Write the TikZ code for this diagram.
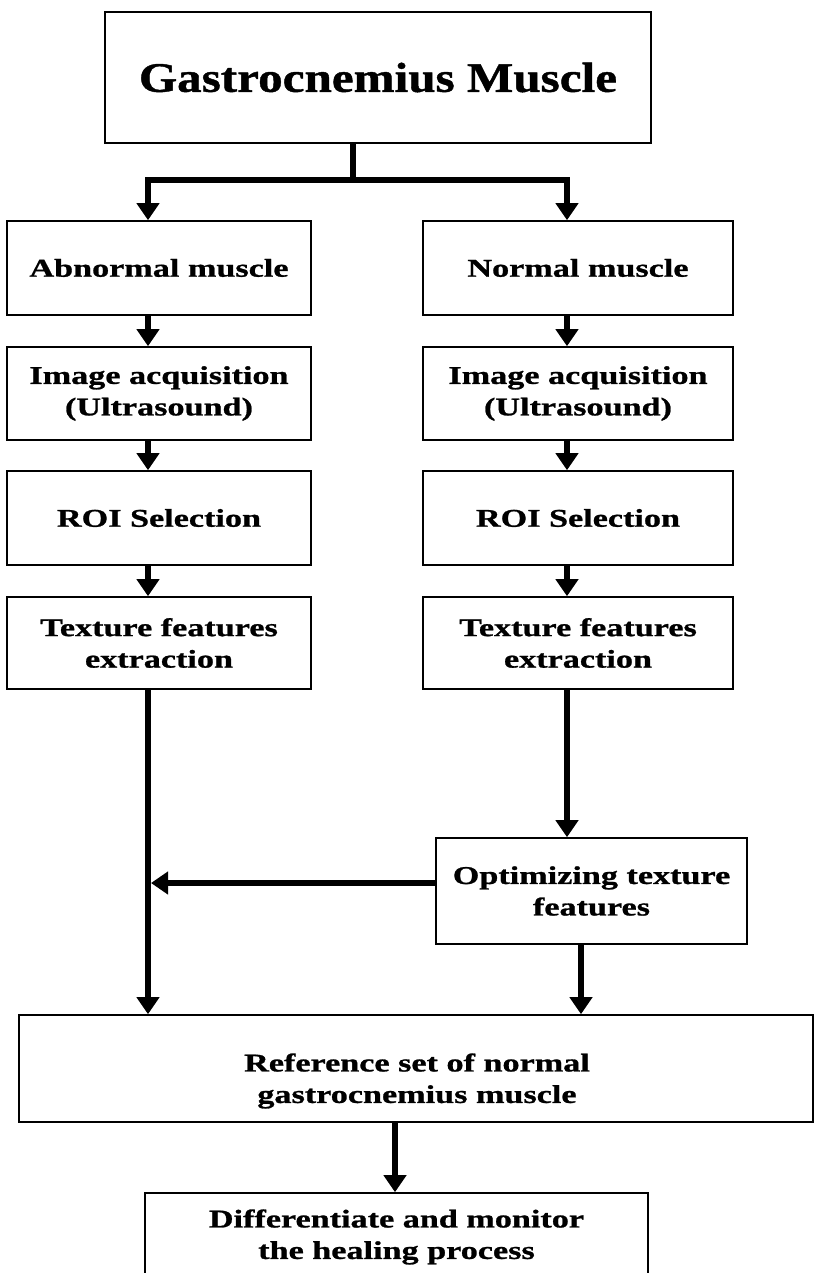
\documentclass[tikz,border=0pt]{standalone}
\usepackage{fontspec}
\newfontfamily\boxfont[FakeStretch=1.34, FakeBold=1]{Liberation Serif}
\newfontfamily\titlefont[FakeStretch=1.17, FakeBold=1]{Liberation Serif}
\usetikzlibrary{arrows.meta, positioning}

\begin{document}
\begin{tikzpicture}[
    x=1bp, y=-1bp,
    box/.style={draw, line width=1.6bp, align=center, inner sep=0pt,
        font=\boxfont\bfseries\fontsize{25.5bp}{31.5bp}\selectfont},
    arr/.style={line width=6bp, line join=miter,
        -{Triangle[length=17bp, width=22bp]}},
]

\useasboundingbox (0,0) rectangle (815,1273);
\clip (0,0) rectangle (815,1273);

% columns that the arrows run along
\coordinate (lcol)  at (148,0);
\coordinate (rcol)  at (567,0);
\coordinate (ocol)  at (581,0);
\coordinate (dcol)  at (395,0);
\coordinate (split) at (353,180);
\coordinate (feed)  at (151,883);

% ---------------------------------------------------------------- top
\node[box, minimum width=546bp, minimum height=131bp,
      font=\titlefont\bfseries\fontsize{42bp}{50bp}\selectfont]
    (title) at (378,77.5) {Gastrocnemius Muscle};

% ---------------------------------------------------------------- abnormal
\node[box, minimum width=304bp, minimum height=94bp] (abn)  at (159,268)   {Abnormal muscle};
\node[box, minimum width=304bp, minimum height=93bp] (img1) at (159,393.5) {Image acquisition\\(Ultrasound)};
\node[box, minimum width=304bp, minimum height=94bp] (roi1) at (159,518)   {ROI Selection};
\node[box, minimum width=304bp, minimum height=92bp] (tex1) at (159,643)   {Texture features\\extraction};

% ---------------------------------------------------------------- normal
\node[box, minimum width=310bp, minimum height=94bp] (nrm)  at (578,268)   {Normal muscle};
\node[box, minimum width=310bp, minimum height=93bp] (img2) at (578,393.5) {Image acquisition\\(Ultrasound)};
\node[box, minimum width=310bp, minimum height=94bp] (roi2) at (578,518)   {ROI Selection};
\node[box, minimum width=310bp, minimum height=92bp] (tex2) at (578,643)   {Texture features\\extraction};

\node[box, minimum width=311bp, minimum height=106bp] (opt) at (591.5,891) {Optimizing texture\\features};

% ---------------------------------------------------------------- bottom
% text sits low in this box, so it is set apart from the frame
\node[box, minimum width=794bp, minimum height=107bp] (ref) at (416,1068.5) {};
\node[box, draw=none] (reftext) at (417,1081) {Reference set of normal\\gastrocnemius muscle};
\node[box, minimum width=503bp, minimum height=88bp] (dif) at (396.5,1237)
    {Differentiate and monitor\\the healing process};

% ---------------------------------------------------------------- arrows
\draw[arr] (title.south -| split) -- (split) -| (abn.north -| lcol);
\draw[arr] (split) -| (nrm.north -| rcol);

\foreach \a/\b in {abn/img1, img1/roi1, roi1/tex1, tex1/ref}
    \draw[arr] (\a.south -| lcol) -- (\b.north -| lcol);
\foreach \a/\b in {nrm/img2, img2/roi2, roi2/tex2, tex2/opt}
    \draw[arr] (\a.south -| rcol) -- (\b.north -| rcol);

\draw[arr] (opt.west |- feed) -- (feed);
\draw[arr] (opt.south -| ocol) -- (ref.north -| ocol);
\draw[arr] (ref.south -| dcol) -- (dif.north -| dcol);

\end{tikzpicture}
\end{document}
